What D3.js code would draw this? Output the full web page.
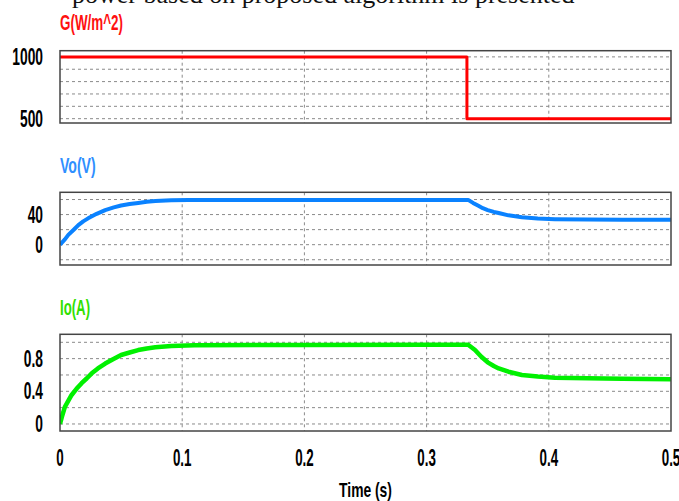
<!DOCTYPE html>
<html lang="en">
<head>
<meta charset="UTF-8">
<script src="https://cdn.jsdelivr.net/npm/d3@7"></script>
<style>
  body { margin: 0; background: #fff; }
  svg { display: block; }
</style>
</head>
<body>
<div id="chart"></div>
<script>
// irradiance step
const gTime = [0, 0.333, 0.333, 0.5];
const gVal = [1000, 1000, 500, 500];

// output voltage
const vTime = [0, 0.004, 0.0068, 0.011, 0.015, 0.019, 0.023, 0.03, 0.037, 0.044, 0.05, 0.057, 0.064, 0.071, 0.078, 0.091, 0.105, 0.12, 0.2, 0.3, 0.334, 0.338, 0.342, 0.346, 0.35, 0.355, 0.359, 0.367, 0.378, 0.391, 0.405, 0.432, 0.46, 0.5];
const vVal = [0, 7, 13, 19.5, 26, 31, 35, 41, 46, 49.5, 52, 54, 55.5, 57, 58, 59, 59.3, 59.5, 59.5, 59.5, 59.5, 55.5, 52, 48.5, 46, 43.5, 42, 39, 36.5, 34.7, 33.9, 33.3, 33.1, 33];

// output current
const iTime = [0, 0.002, 0.004, 0.0095, 0.0135, 0.0177, 0.022, 0.026, 0.031, 0.037, 0.043, 0.05, 0.057, 0.064, 0.071, 0.078, 0.091, 0.11, 0.2, 0.3, 0.334, 0.3396, 0.345, 0.35, 0.355, 0.359, 0.367, 0.378, 0.391, 0.405, 0.432, 0.46, 0.5];
const iVal = [0, 0.11, 0.21, 0.355, 0.43, 0.5, 0.56, 0.62, 0.68, 0.74, 0.79, 0.845, 0.875, 0.905, 0.925, 0.94, 0.955, 0.963, 0.968, 0.97, 0.97, 0.906, 0.82, 0.755, 0.71, 0.68, 0.64, 0.6, 0.58, 0.567, 0.56, 0.553, 0.547];

const xTicks = [0, 0.1, 0.2, 0.3, 0.4, 0.5];

const w = 679, h = 501;
const left = 60, right = 671;

const panels = [
  { name: 'G(W/m^2)', color: '#ff1010', lineColor: '#ff0000', width: 3, t: gTime, v: gVal,
    top: 50.7, bottom: 123, domain: [465, 1050], grid: [500, 600, 700, 800, 900, 1000], labels: [500, 1000], titleY: 30, sx: 0.61 },
  { name: 'Vo(V)', color: '#2f8fff', lineColor: '#0a82ff', width: 4, t: vTime, v: vVal,
    top: 192.3, bottom: 265, domain: [-27, 69.6], grid: [-20, 0, 20, 40, 60], labels: [0, 40], titleY: 173, sx: 0.64 },
  { name: 'Io(A)', color: '#30e000', lineColor: '#00f000', width: 4.5, t: iTime, v: iVal,
    top: 334.3, bottom: 431, domain: [-0.086, 1.098], grid: [0, 0.2, 0.4, 0.6, 0.8, 1.0], labels: [0, 0.4, 0.8], titleY: 315, sx: 0.6 }
];

const svg = d3.select('#chart').append('svg')
  .attr('width', w)
  .attr('height', h);

const x = d3.scaleLinear().domain([0, 0.5]).range([left, right]);

// squeezed text, the plot software uses a narrow font
function label(g, txt, px, py, anchor, size, color, weight, sx) {
  g.append('text')
    .attr('transform', 'translate(' + px + ',' + py + ') scale(' + sx + ',1)')
    .attr('text-anchor', anchor)
    .attr('font-family', '"Liberation Sans", Arial, sans-serif')
    .attr('font-size', size)
    .attr('font-weight', weight)
    .attr('fill', color)
    .text(txt);
}

// cut off caption from the page above
svg.append('text')
  .attr('x', 72)
  .attr('y', 3)
  .attr('font-family', '"Liberation Serif", "Times New Roman", serif')
  .attr('font-size', 26)
  .attr('fill', '#111')
  .text('power based on proposed algorithm is presented');

panels.forEach((p, k) => {
  const y = d3.scaleLinear().domain(p.domain).range([p.bottom, p.top]);
  const g = svg.append('g');

  g.append('clipPath').attr('id', 'clip' + k)
    .append('rect')
    .attr('x', left).attr('y', p.top)
    .attr('width', right - left).attr('height', p.bottom - p.top);

  // grid
  g.selectAll('.hg').data(p.grid).enter().append('line')
    .attr('x1', left).attr('x2', right)
    .attr('y1', d => y(d)).attr('y2', d => y(d))
    .attr('stroke', '#8a8a8a').attr('stroke-width', 1)
    .attr('stroke-dasharray', '3,3');
  g.selectAll('.vg').data(xTicks.slice(1, -1)).enter().append('line')
    .attr('x1', d => x(d)).attr('x2', d => x(d))
    .attr('y1', p.top).attr('y2', p.bottom)
    .attr('stroke', '#8a8a8a').attr('stroke-width', 1)
    .attr('stroke-dasharray', '3,3');

  // series
  const pts = p.t.map((t, i) => [t, p.v[i]]);
  g.append('path')
    .datum(pts)
    .attr('clip-path', 'url(#clip' + k + ')')
    .attr('fill', 'none')
    .attr('stroke', p.lineColor)
    .attr('stroke-width', p.width)
    .attr('stroke-linejoin', 'round')
    .attr('d', d3.line().x(d => x(d[0])).y(d => y(d[1])));

  // frame
  g.append('rect')
    .attr('x', left).attr('y', p.top)
    .attr('width', right - left).attr('height', p.bottom - p.top)
    .attr('fill', 'none')
    .attr('stroke', '#444').attr('stroke-width', 1.5);

  // y tick labels
  p.labels.forEach(v => label(g, d3.format('')(v), 43, y(v) + 8, 'end', 23, '#000', 'bold', 0.6));

  // panel title
  label(g, p.name, left, p.titleY, 'start', 22, p.color, 'bold', p.sx);
});

// x axis labels under the last panel
xTicks.forEach(t => label(svg, d3.format('')(t), x(t), 466, 'middle', 23, '#000', 'bold', 0.58));
label(svg, 'Time (s)', x(0.25), 497, 'middle', 21, '#000', 'bold', 0.66);
</script>
</body>
</html>
